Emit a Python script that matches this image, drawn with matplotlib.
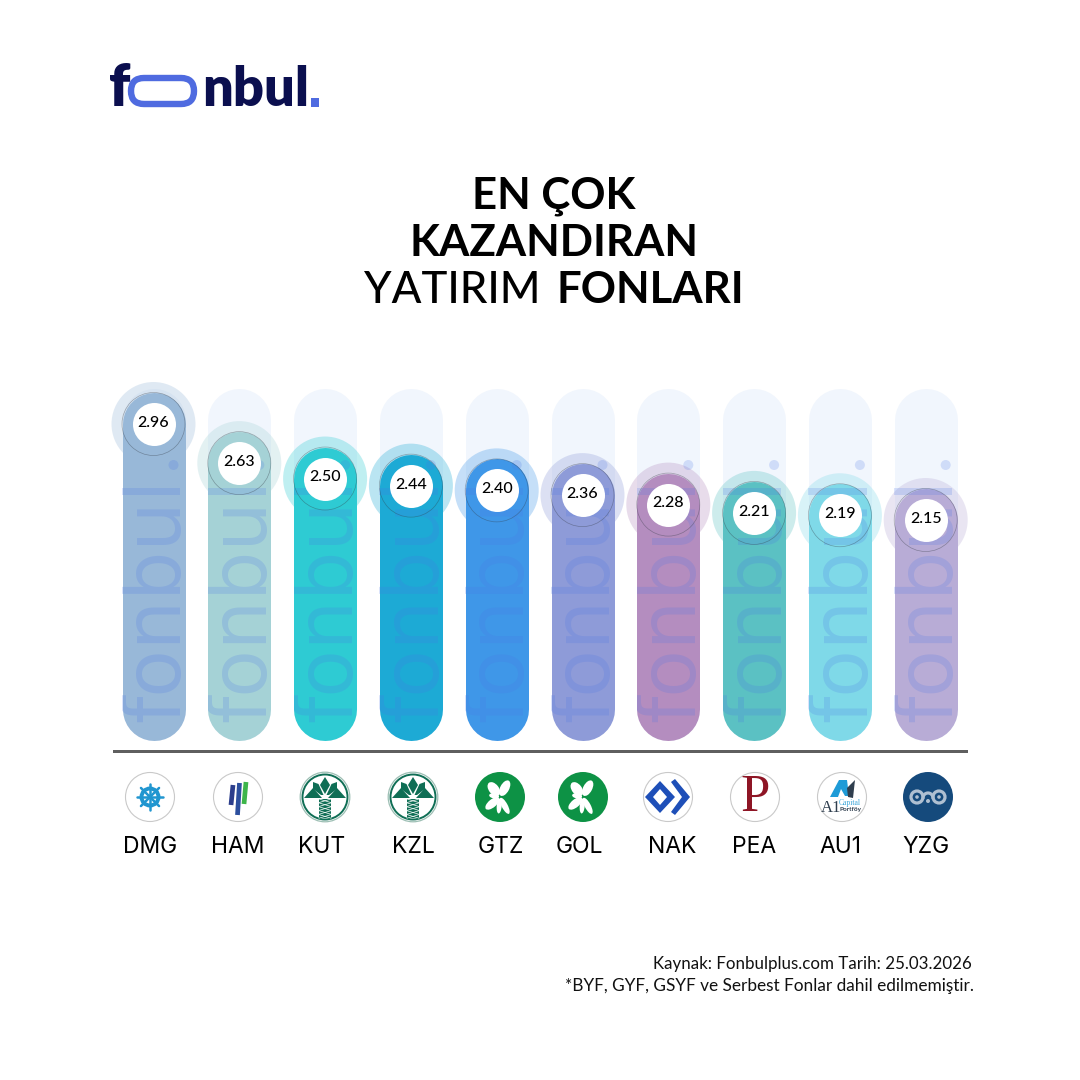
import matplotlib
matplotlib.use("Agg")
import numpy as np
import matplotlib.pyplot as plt
from matplotlib.patches import Circle, Ellipse, FancyBboxPatch, Polygon, Rectangle
from matplotlib.transforms import Affine2D, Bbox

funds = ["DMG", "HAM", "KUT", "KZL", "GTZ", "GOL", "NAK", "PEA", "AU1", "YZG"]
values = [2.96, 2.63, 2.50, 2.44, 2.40, 2.36, 2.28, 2.21, 2.19, 2.15]
value_labels = ["2.96", "2.63", "2.50", "2.44", "2.40", "2.36", "2.28", "2.21", "2.19", "2.15"]
bar_colors = ["#98B8D8", "#A5D2D6", "#2ECBD3", "#1DAAD5", "#3F97E8",
              "#8E9BD8", "#B48DBF", "#5BC1C3", "#7FD9E8", "#B8ACD6"]
track_level = 2.99
base_level = 0.551

FONT = "Lato"
NAVY = "#0B0F4F"
BLUE = "#4F6BE0"
PX = 0.72  # points per pixel at dpi 100

fig = plt.figure(figsize=(10.8, 10.8), dpi=100, facecolor="white")
ax = fig.add_axes([0, 0, 1, 1])
ax.axis("off")
ax.set_xlim(-153.5 / 85.8, (1080 - 153.5) / 85.8)
ax.set_ylim(2.15 - 560 / 118.5, 2.15 + 520 / 118.5)
pix = Affine2D().scale(1, -1).translate(0, 1080)  # y-down pixel coordinates

x = np.arange(len(funds))
lw = 63 * PX

ax.vlines(x, base_level, track_level, color="#F1F6FD", lw=lw, capstyle="round", zorder=1)
ax.vlines(x, base_level, values, colors=bar_colors, lw=lw, capstyle="round", zorder=3)
ax.scatter(x, values, s=(84 * PX) ** 2, c=bar_colors, alpha=0.3, linewidths=0, zorder=2)

# watermark, limited to the width of each track
for xi in x:
    cx, _ = ax.transData.transform((xi, track_level))
    t = ax.text(cx + 26, 722, "fonbul", transform=pix, rotation=90, rotation_mode="anchor",
                ha="left", va="baseline", family="DejaVu Sans", fontsize=56, color="#4A74E6",
                alpha=0.2, zorder=4)
    t.set_clip_on(True)
    t.set_clip_box(Bbox([[cx - 31.5, 300], [cx + 31.5, 700]]))
    ax.add_patch(Circle((cx + 20, 465), 5, transform=pix, fc="#4A74E6", ec="none", alpha=0.2, zorder=4))

# value badges
ax.scatter(x, values, s=(63 * PX) ** 2, facecolors="none", edgecolors="#333a44",
           linewidths=0.5, alpha=0.4, zorder=5)
ax.scatter(x, values, s=(43 * PX) ** 2, c="white", linewidths=0, zorder=6)
for xi, v, lab in zip(x, values, value_labels):
    ax.annotate(lab, (xi, v), xytext=(0, 0.8), textcoords="offset points", ha="center", va="center",
                family=FONT, weight="medium", fontsize=11.5, color="black", zorder=7)

ax.add_patch(Rectangle((113, 749.5), 855, 3, transform=pix, fc="#5F5F5F", ec="none", zorder=3))


def P(patch, z=8):
    patch.set_transform(pix)
    patch.set_zorder(z)
    ax.add_patch(patch)
    return patch


def disc(cx, cy, r, fc="white", ec="#C9C9C9", lw_=0.8):
    P(Circle((cx, cy), r, fc=fc, ec=ec, lw=lw_))


def poly(pts, fc, cx=0, cy=0, z=9):
    P(Polygon(np.array(pts, float) + (cx, cy), closed=True, fc=fc, ec="none"), z)


def arc(cx, cy, r, a0, a1, color, lw_):
    th = np.radians(np.linspace(a0, a1, 40))
    ax.plot(cx + r * np.cos(th), cy + r * np.sin(th), transform=pix, color=color, lw=lw_,
            solid_capstyle="round", zorder=9)


def logo_dmg(cx, cy):
    disc(cx, cy, 24.5)
    c = "#2196D0"
    P(Circle((cx, cy), 8.5, fc="none", ec=c, lw=2.8), 9)
    P(Circle((cx, cy), 2.4, fc=c, ec="none"), 9)
    for a in np.arange(8) * np.pi / 4:
        dx, dy = np.cos(a), np.sin(a)
        ax.plot([cx + 2 * dx, cx + 12.8 * dx], [cy + 2 * dy, cy + 12.8 * dy], transform=pix,
                color=c, lw=1.8, solid_capstyle="round", zorder=9)


def logo_ham(cx, cy):
    disc(cx, cy, 24.5)
    for dx, y0, y1, c in [(-6, -12, 8, "#2C3E8C"), (0.5, -14, 18, "#2C4F9E"), (7, -15, 7, "#3DB54A")]:
        ax.plot([cx + dx + 1.0, cx + dx - 1.0], [cy + y0, cy + y1], transform=pix, color=c,
                lw=3.4, solid_capstyle="butt", zorder=9)


def logo_kuveyt(cx, cy):
    g = "#0F6E55"
    disc(cx, cy, 24.8, fc="white", ec="#9DBFB4", lw_=0.9)
    P(Circle((cx, cy), 22.5, fc="none", ec=g, lw=1.4), 9)
    poly([(0, -20), (5, -12), (0, -3), (-5, -12)], g, cx, cy)
    for s in (-1, 1):
        poly([(s * 1.5, -2), (s * 6.5, -13), (s * 12, -15), (s * 12, -8), (s * 4, -2)], g, cx, cy)
        poly([(s * 3, 1), (s * 12, -9), (s * 21, 1)], g, cx, cy)
    P(Rectangle((cx - 6, cy + 2), 12, 19, fc=g, ec="none"), 9)
    for k in range(5):
        yy = cy + 2 + k * 3.9
        ax.plot([cx - 6, cx + 6], [yy, yy + 3.6], transform=pix, color="white", lw=0.5, zorder=10)
        ax.plot([cx + 6, cx - 6], [yy, yy + 3.6], transform=pix, color="white", lw=0.5, zorder=10)


def logo_clover(cx, cy):
    disc(cx, cy, 25, fc="#0D9245", ec="none", lw_=0)
    for ang, d, L, W in [(-128, 10, 16, 10), (-62, 10, 17, 9), (140, 10, 17, 8),
                         (62, 10, 18, 6), (95, 9, 15, 5), (-170, 6, 10, 5)]:
        a = np.radians(ang)
        P(Ellipse((cx + d * np.cos(a), cy + d * np.sin(a)), L, W, angle=ang, fc="white", ec="none"), 9)


def logo_nak(cx, cy):
    disc(cx, cy, 24.5)
    c = "#1E4FB8"
    poly([(-23, 0), (-8, -16), (7, 0), (-8, 16)], c, cx, cy)
    poly([(-15, 0), (-8, -8), (-1, 0), (-8, 8)], "white", cx, cy)
    poly([(3, -15), (7, -18), (22, 0), (7, 18), (3, 15), (14, 0)], c, cx, cy)


def logo_pea(cx, cy):
    disc(cx, cy, 24.5)
    ax.text(cx, cy + 1, "P", transform=pix, ha="center", va="center", family="Liberation Serif",
            fontsize=38, color="#8E1525", zorder=9)


def logo_au1(cx, cy):
    disc(cx, cy, 24.5)
    poly([(-12, 0), (-3, -17), (5, -17), (7, -1), (3, -1), (-1, -8), (-4, 0)], "#1E9BD7", cx, cy)
    poly([(5, -9), (13, -17), (11, 1), (6, 0)], "#2F3E4E", cx, cy)
    ax.text(cx - 11, cy + 11, "A1", transform=pix, ha="center", va="center",
            family="Liberation Serif", fontsize=12, color="#2F3E4E", zorder=9)
    ax.text(cx + 8, cy + 6, "Capital", transform=pix, ha="center", va="center",
            family="Liberation Serif", fontsize=5.5, color="#3AA5D8", zorder=9)
    ax.text(cx + 8, cy + 12, "Portföy", transform=pix, ha="center", va="center",
            family="Lato", weight="bold", fontsize=4.6, color="#2F3E4E", zorder=9)


def logo_yzg(cx, cy):
    disc(cx, cy, 25, fc="#154A7C", ec="none", lw_=0)
    c = "#AFC0D2"
    for dx in (-11, 11):
        P(Circle((cx + dx, cy), 6, fc="none", ec=c, lw=2.3), 9)
        P(Circle((cx + dx, cy), 1.8, fc=c, ec="none"), 9)
    arc(cx, cy + 1, 5, 180, 360, c, 2.3)
    P(Circle((cx, cy + 4), 2.0, fc=c, ec="none"), 10)


logo_funcs = [logo_dmg, logo_ham, logo_kuveyt, logo_kuveyt, logo_clover,
              logo_clover, logo_nak, logo_pea, logo_au1, logo_yzg]
logo_x = [150, 238, 325, 413, 500, 583, 668, 755, 842, 928]
label_x = [150, 238, 322, 413, 501, 579, 672, 754, 840, 926]
for fn, lx, tx, name in zip(logo_funcs, logo_x, label_x, funds):
    fn(lx, 797)
    ax.text(tx, 853, name, transform=pix, ha="center", va="baseline", family="Inter",
            fontsize=16.5, color="black", zorder=8)

# title
TITLE_SIZE = 31.5
ax.text(554, 208, "EN ÇOK", transform=pix, ha="center", va="baseline", family=FONT,
        weight="bold", fontsize=TITLE_SIZE, color="black")
ax.text(554, 256, "KAZANDIRAN", transform=pix, ha="center", va="baseline", family=FONT,
        weight="bold", fontsize=TITLE_SIZE, color="black")
ax.text(364, 303, "YATIRIM", transform=pix, ha="left", va="baseline", family=FONT,
        weight="medium", fontsize=TITLE_SIZE, color="black")
ax.text(744, 303, "FONLARI", transform=pix, ha="right", va="baseline", family=FONT,
        weight="bold", fontsize=TITLE_SIZE, color="black")

# footer
ax.text(972, 964, "Kaynak: Fonbulplus.com Tarih: 25.03.2026", transform=pix, ha="right", va="center",
        family=FONT, fontsize=12.2, color="#111111")
ax.text(974, 986, "*BYF, GYF, GSYF ve Serbest Fonlar dahil edilmemiştir.", transform=pix, ha="right",
        va="center", family=FONT, fontsize=12.4, color="#111111")

# brand logo
ax.text(109, 106.5, "f", transform=pix, ha="left", va="baseline", family=FONT, weight="heavy",
        fontsize=42, color=NAVY)
P(FancyBboxPatch((144, 91), 37, 0, boxstyle="round,pad=13,rounding_size=13", fc="none", ec=BLUE, lw=4.6))
ax.text(202, 106.5, "nbul", transform=pix, ha="left", va="baseline", family=FONT, weight="heavy",
        fontsize=39, color=NAVY)
P(Rectangle((311, 98), 8, 9, fc=BLUE, ec="none"))

fig.savefig("out.png", dpi=100, facecolor="white")
